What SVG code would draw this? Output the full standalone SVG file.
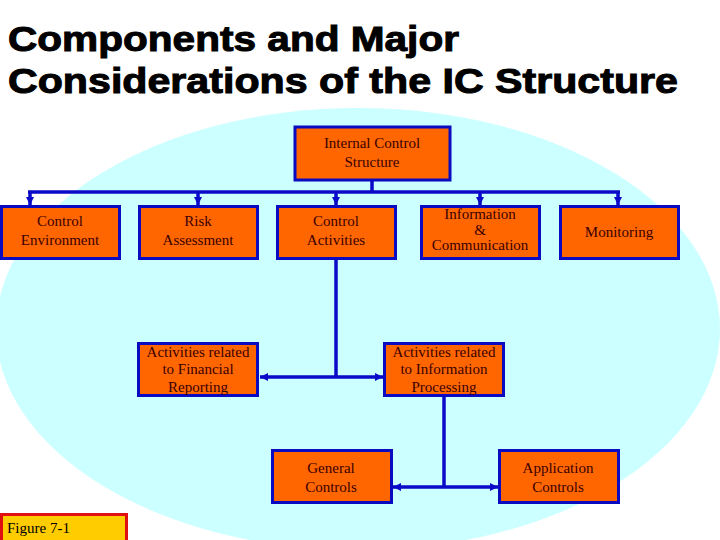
<svg xmlns="http://www.w3.org/2000/svg" width="720" height="540" viewBox="0 0 720 540">
  <defs>
    <style>
      .box { fill: #FF6600; stroke: #0A0AC0; stroke-width: 3; }
      .lbl { font-family: "Liberation Serif", "Times New Roman", serif; font-size: 15px; fill: #3A0000; text-anchor: middle; }
      .title { font-family: "Liberation Sans", Arial, sans-serif; font-weight: bold; font-size: 35px; fill: #000000; stroke: #000000; stroke-width: 1; }
      .conn { stroke: #0A0AC8; stroke-width: 3.5; fill: none; }
    </style>
    <marker id="arrow" markerUnits="userSpaceOnUse" markerWidth="10" markerHeight="10" viewBox="0 0 10 10" refX="9" refY="5" orient="auto-start-reverse">
      <path d="M1,1 L9,5 L1,9 Z" fill="#0A0AC8"/>
    </marker>
  </defs>

  <rect x="0" y="0" width="720" height="540" fill="#FFFFFF"/>
  <ellipse cx="358" cy="329" rx="362" ry="221" fill="#CCFFFF"/>

  <text class="title" x="8" y="51" textLength="451" lengthAdjust="spacingAndGlyphs">Components and Major</text>
  <text class="title" x="8" y="93" textLength="670" lengthAdjust="spacingAndGlyphs">Considerations of the IC Structure</text>

  <g id="connectors">
    <line class="conn" x1="372" y1="181" x2="372" y2="192"/>
    <line class="conn" x1="28" y1="192" x2="620" y2="192"/>
    <line class="conn" x1="30" y1="192" x2="30" y2="205" marker-end="url(#arrow)"/>
    <line class="conn" x1="198" y1="192" x2="198" y2="205" marker-end="url(#arrow)"/>
    <line class="conn" x1="336" y1="192" x2="336" y2="205" marker-end="url(#arrow)"/>
    <line class="conn" x1="480" y1="192" x2="480" y2="205" marker-end="url(#arrow)"/>
    <line class="conn" x1="618" y1="192" x2="618" y2="205" marker-end="url(#arrow)"/>
    <line class="conn" x1="336" y1="259" x2="336" y2="377"/>
    <line class="conn" x1="260" y1="377" x2="383" y2="377" marker-start="url(#arrow)" marker-end="url(#arrow)"/>
    <line class="conn" x1="444" y1="397" x2="444" y2="487"/>
    <line class="conn" x1="393" y1="487" x2="498" y2="487" marker-start="url(#arrow)" marker-end="url(#arrow)"/>
  </g>

  <g id="node-ics">
    <rect class="box" x="295" y="127" width="155" height="53"/>
    <text class="lbl" x="372" y="148">Internal Control</text>
    <text class="lbl" x="372" y="167">Structure</text>
  </g>
  <g id="node-control-environment">
    <rect class="box" x="1.5" y="206.5" width="118" height="52"/>
    <text class="lbl" x="60" y="226">Control</text>
    <text class="lbl" x="60" y="245">Environment</text>
  </g>
  <g id="node-risk-assessment">
    <rect class="box" x="139.5" y="206.5" width="118" height="52"/>
    <text class="lbl" x="198" y="226">Risk</text>
    <text class="lbl" x="198" y="245">Assessment</text>
  </g>
  <g id="node-control-activities">
    <rect class="box" x="277.5" y="206.5" width="118" height="52"/>
    <text class="lbl" x="336" y="226">Control</text>
    <text class="lbl" x="336" y="245">Activities</text>
  </g>
  <g id="node-information-communication">
    <rect class="box" x="421.5" y="206.5" width="118" height="52"/>
    <text class="lbl" x="480" y="219">Information</text>
    <text class="lbl" x="480" y="235">&amp;</text>
    <text class="lbl" x="480" y="250">Communication</text>
  </g>
  <g id="node-monitoring">
    <rect class="box" x="560.5" y="206.5" width="118" height="52"/>
    <text class="lbl" x="619" y="237">Monitoring</text>
  </g>
  <g id="node-financial-reporting">
    <rect class="box" x="138.5" y="343.5" width="119" height="52"/>
    <text class="lbl" x="198" y="357">Activities related</text>
    <text class="lbl" x="198" y="374">to Financial</text>
    <text class="lbl" x="198" y="392">Reporting</text>
  </g>
  <g id="node-information-processing">
    <rect class="box" x="384.5" y="343.5" width="119" height="52"/>
    <text class="lbl" x="444" y="357">Activities related</text>
    <text class="lbl" x="444" y="374">to Information</text>
    <text class="lbl" x="444" y="392">Processing</text>
  </g>
  <g id="node-general-controls">
    <rect class="box" x="272.5" y="450.5" width="119" height="52"/>
    <text class="lbl" x="331" y="473">General</text>
    <text class="lbl" x="331" y="492">Controls</text>
  </g>
  <g id="node-application-controls">
    <rect class="box" x="499.5" y="450.5" width="119" height="52"/>
    <text class="lbl" x="558" y="473">Application</text>
    <text class="lbl" x="558" y="492">Controls</text>
  </g>

  <g id="figure-label">
    <rect x="1.5" y="514.5" width="125" height="32" fill="#FFCC00" stroke="#E01010" stroke-width="3"/>
    <text x="7" y="533" font-family="'Liberation Serif', 'Times New Roman', serif" font-size="15" fill="#000000">Figure 7-1</text>
  </g>
</svg>
